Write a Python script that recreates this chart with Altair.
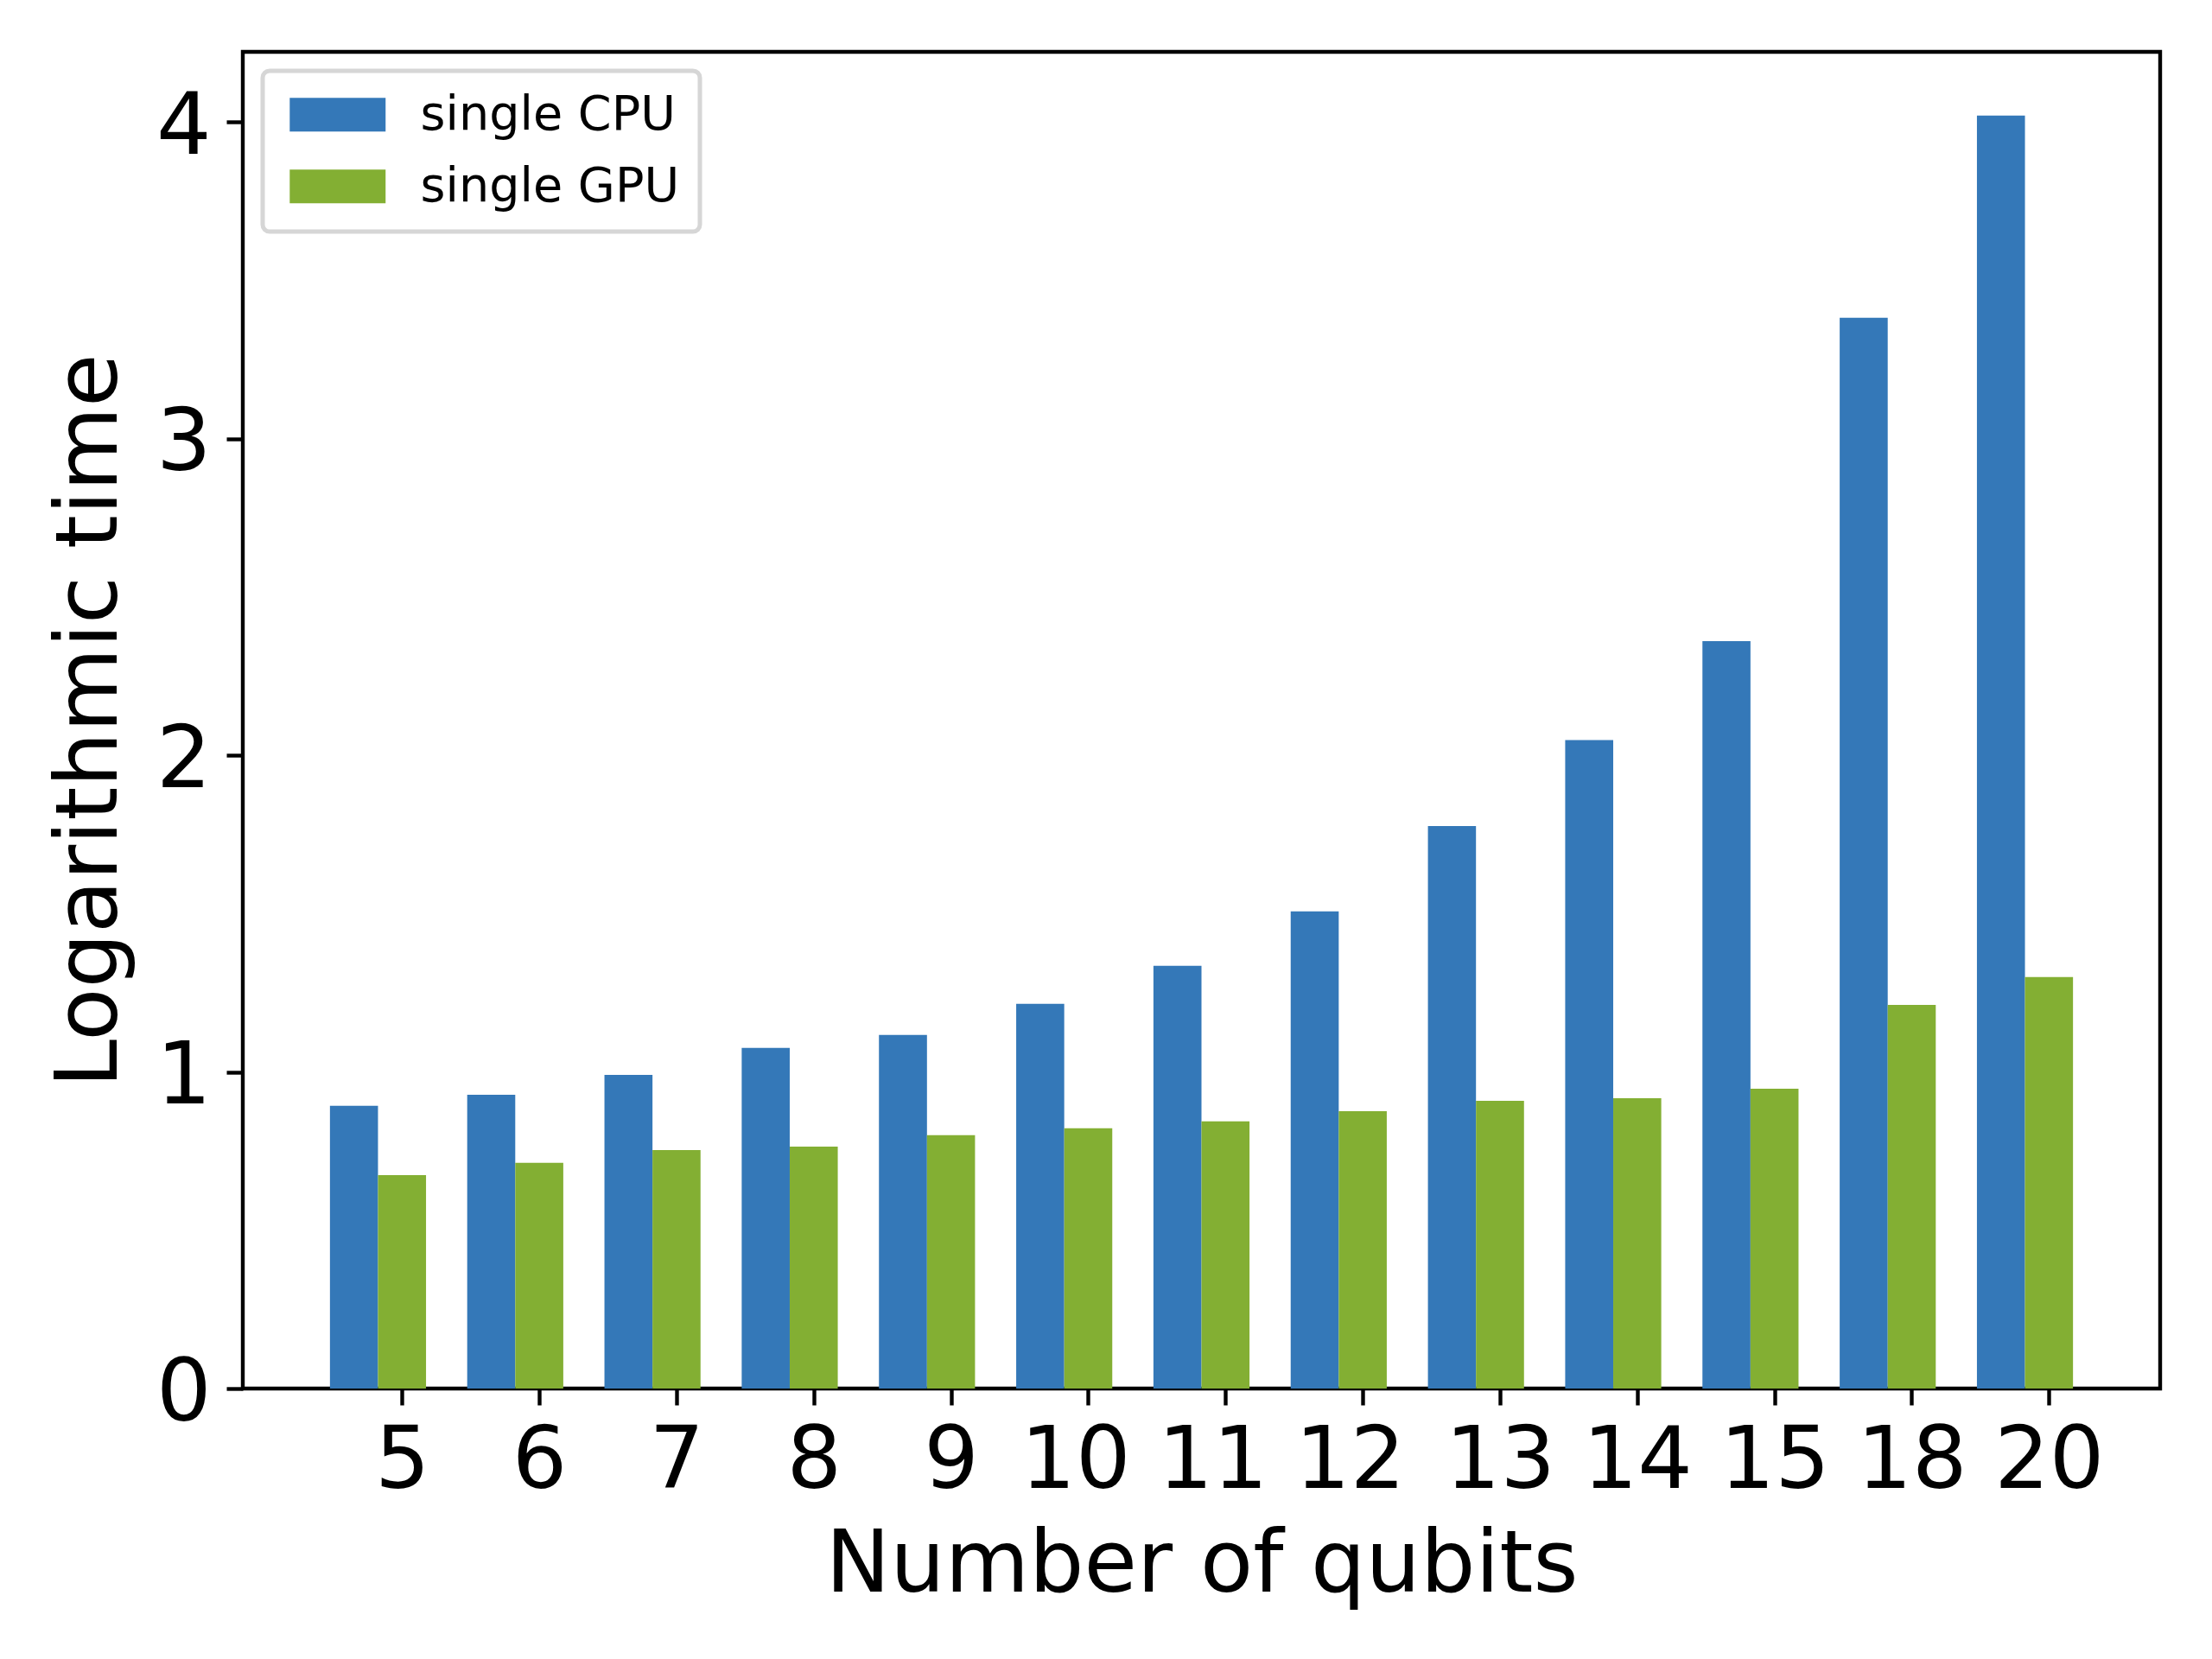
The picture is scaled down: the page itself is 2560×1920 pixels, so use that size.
import altair as alt
import pandas as pd

qubits = ["5", "6", "7", "8", "9", "10", "11", "12", "13", "14", "15", "18", "20"]
cpu = [0.893, 0.928, 0.991, 1.076, 1.117, 1.215, 1.335, 1.507, 1.777, 2.048, 2.361, 3.382, 4.021]
gpu = [0.674, 0.713, 0.753, 0.764, 0.800, 0.822, 0.844, 0.876, 0.909, 0.917, 0.947, 1.212, 1.300]
series = ["single CPU", "single GPU"]
colors = ["#3478b8", "#83af33"]
y_ticks = [0, 1, 2, 3, 4]

bar_w = 0.35
rows = []
for i, q in enumerate(qubits):
    for k, (s, vals) in enumerate(zip(series, [cpu, gpu])):
        c = i + k * bar_w
        rows.append({"qubits": q, "series": s, "value": vals[i],
                     "x0": c - bar_w / 2, "x1": c + bar_w / 2})
df = pd.DataFrame(rows)

n = len(qubits)
lo = -bar_w / 2
hi = (n - 1) + bar_w + bar_w / 2
margin = 0.05 * (hi - lo)
x_domain = [lo - margin, hi + margin]
y_max = max(cpu + gpu) * 1.05

tick_vals = [i + bar_w for i in range(n)]
label_expr = "[" + ",".join(f"'{q}'" for q in qubits) + f"][round(datum.value - {bar_w})]"

FONT = "DejaVu Sans"

chart = alt.Chart(df).mark_bar().encode(
    x=alt.X("x0:Q", scale=alt.Scale(domain=x_domain, nice=False, zero=False),
            axis=alt.Axis(values=tick_vals, labelExpr=label_expr, title="Number of qubits",
                          grid=False, domain=False, labelAngle=0,
                          labelFontSize=100, titleFontSize=100, labelFont=FONT, titleFont=FONT,
                          titleFontWeight="normal", labelColor="black", titleColor="black",
                          tickSize=19, tickWidth=4.4, tickColor="black",
                          labelOffset={"condition": {"test": "datum.value > 5 && datum.value < 8",
                                                     "value": -15}, "value": 0},
                          labelPadding=16, titlePadding=21, labelFlush=False, labelOverlap=False)),
    x2="x1:Q",
    y=alt.Y("value:Q", scale=alt.Scale(domain=[0, y_max], nice=False),
            axis=alt.Axis(values=y_ticks, format="d", title="Logarithmic time",
                          grid=False, domain=False,
                          labelFontSize=100, titleFontSize=100, labelFont=FONT, titleFont=FONT,
                          titleFontWeight="normal", labelColor="black", titleColor="black",
                          tickSize=19, tickWidth=4.4, tickColor="black",
                          labelPadding=18, titlePadding=25, labelOffset=6,
                          labelFlush=False, labelOverlap=False)),
    y2=alt.datum(0),
    color=alt.Color("series:N", scale=alt.Scale(domain=series, range=colors),
                    legend=alt.Legend(title=None, orient="none", legendX=23, legendY=22,
                                      symbolType="M-1,-1H4.69V1H-1Z", symbolSize=1521,
                                      symbolStrokeWidth=0, symbolOpacity=1,
                                      labelFontSize=55.6, labelFont=FONT, labelColor="black",
                                      labelOffset=104, labelLimit=1000,
                                      padding=23, rowPadding=26,
                                      fillColor="white", strokeColor="#d6d6d6",
                                      cornerRadius=8)),
).properties(
    width=2219, height=1547,
    padding={"left": 273, "top": 52, "right": 40, "bottom": 290},
    autosize=alt.AutoSizeParams(type="none"),
    background="white",
).configure_view(
    stroke="black", strokeWidth=4.4
).configure_legend(
    strokeWidth=5
)

chart.save("out.html", embed_options={"renderer": "svg", "actions": False})
